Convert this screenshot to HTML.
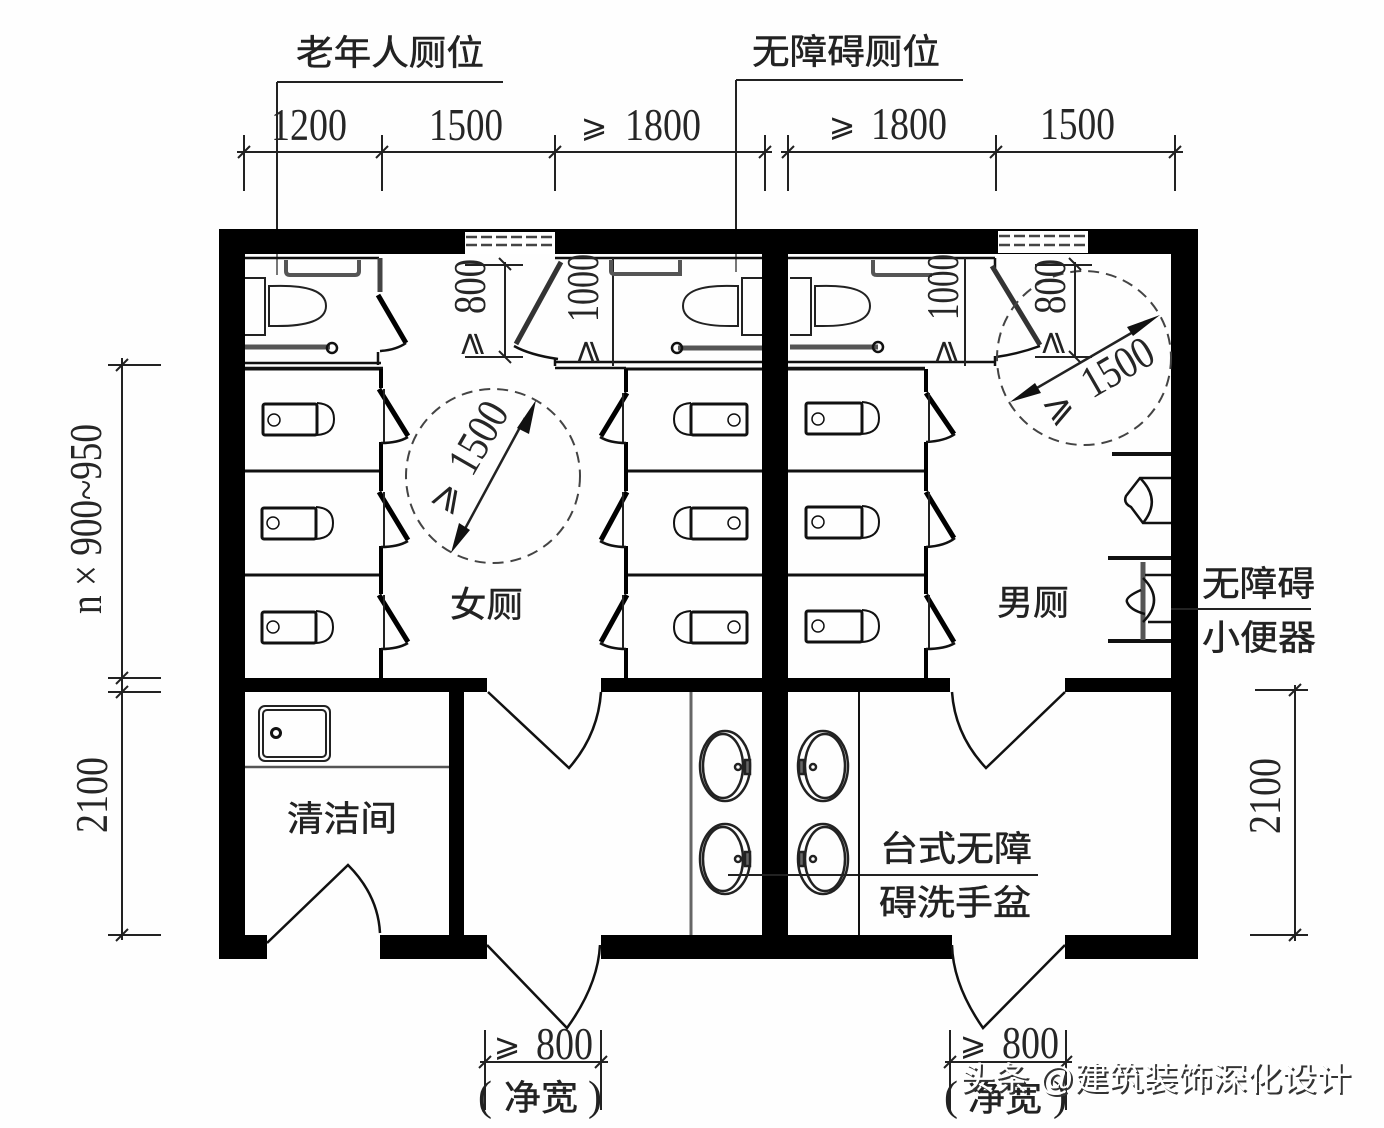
<!DOCTYPE html>
<html lang="zh"><head><meta charset="utf-8"><title>卫生间平面</title>
<style>
html,body{margin:0;padding:0;background:#fefefe}
svg{display:block}
.d{font-family:"Liberation Serif",serif;fill:#262626;font-size:45px}
.ge{font-family:"DejaVu Sans",sans-serif;fill:#222;text-anchor:middle;dominant-baseline:central;font-size:32px}
.c{font-family:"Liberation Sans","Noto Sans CJK SC",sans-serif;fill:#222;font-size:35px;stroke:#222;stroke-width:.5}
.l{fill:none;stroke:#222;stroke-width:2}
.g{fill:none;stroke:#555;stroke-width:4}
.t{fill:none;stroke:#111;stroke-width:2.5}
.t3{fill:none;stroke:#111;stroke-width:3}
.b{fill:none;stroke:#000;stroke-width:5}
.w{fill:#000}
</style></head><body>
<svg xmlns="http://www.w3.org/2000/svg" width="1384" height="1128" viewBox="0 0 1384 1128">
<rect width="1384" height="1128" fill="#fefefe"/>

<!-- walls -->
<g class="w">
<rect x="219" y="229" width="979" height="25"/>
<rect x="219" y="229" width="26" height="730"/>
<rect x="1171" y="229" width="27" height="730"/>
<rect x="762" y="229" width="26" height="730"/>
<rect x="219" y="678" width="268" height="14"/>
<rect x="601" y="678" width="161" height="14"/>
<rect x="788" y="678" width="162" height="14"/>
<rect x="1065" y="678" width="106" height="14"/>
<rect x="449" y="692" width="15" height="243"/>
<rect x="219" y="935" width="48" height="24"/>
<rect x="380" y="935" width="107" height="24"/>
<rect x="601" y="935" width="351" height="24"/>
<rect x="1065" y="935" width="133" height="24"/>
</g>
<!-- windows -->
<g>
<rect x="465" y="232" width="90" height="22" fill="#fff"/>
<path d="M466 237H555M466 245H555" fill="none" stroke="#444" stroke-width="2.5" stroke-dasharray="11 4"/>
<rect x="998" y="231" width="90" height="22" fill="#fff"/>
<path d="M999 236H1088M999 245H1088" fill="none" stroke="#444" stroke-width="2.5" stroke-dasharray="11 4"/>
</g>

<!-- top dimensions and leaders -->
<g class="l">
<path d="M277 82H503M277 82V229M736 80H963M736 80V229"/>
<path d="M237 152H772M244 135V191M382 135V191M555 135V191M765 135V191"/>
<path d="M238 158L250 146M376 158L388 146M549 158L561 146M759 158L771 146"/>
<path d="M781 152H1183M788 135V191M996 135V191M1175 135V191"/>
<path d="M782 158L794 146M990 158L1002 146M1169 158L1181 146"/>
<!-- left -->
<path d="M122 358V940M108 365H161M108 678H161M108 692H161M108 935H161"/>
<path d="M116 371L128 359M116 684L128 672M116 698L128 686M116 941L128 929"/>
<!-- right -->
<path d="M1295 685V941M1255 690H1308M1250 935H1308M1289 696L1301 684M1289 941L1301 929"/>
<!-- bottom -->
<path d="M485 1030V1110M601 1030V1110M480 1062H608M479 1068L491 1056M595 1068L607 1056"/>
<path d="M950 1030V1110M1066 1030V1110M945 1062H1072M944 1068L956 1056M1060 1068L1072 1056"/>
<!-- leaders -->
<path d="M1171 609H1311M728 875H1038"/>
<path d="M277 254V275M736 254V272" stroke="#777"/>
</g>

<!-- left accessible WC -->
<path class="t" d="M245 258H379M245 363H381M245 368H383"/>
<path d="M380 258V292" fill="none" stroke="#444" stroke-width="5"/>
<path class="t" d="M378 352V365"/>
<path class="b" d="M378 295L406 343"/>
<path class="t" d="M406 343Q396 350 380 351"/>
<path class="g" d="M286 260V271Q286 275 290 275H355Q359 275 359 271V260"/>
<path class="l" d="M245 278H265V335H245"/>
<path class="l" d="M269 286H272Q326 284 326 306Q326 327 272 326H269Z"/>
<path d="M245 347H330" stroke="#555" stroke-width="5" fill="none"/>
<circle cx="332" cy="348" r="5" class="t"/>
<!-- women's accessible WC -->
<path class="t" d="M555 258H762M555 362H762M555 368H626M555 366V358"/>
<path class="l" d="M613 258V366"/>
<path d="M561 262L516 344" stroke="#333" stroke-width="5" fill="none"/>
<path class="t" d="M514 346Q530 355 558 359"/>
<path class="g" d="M611 260V271Q611 274 615 274H680V260"/>
<path class="l" d="M762 278H742V335H762"/>
<path class="l" d="M738 286H735Q683 284 683 306Q683 327 735 326H738Z"/>
<path d="M678 348H762" stroke="#555" stroke-width="5" fill="none"/>
<circle cx="677" cy="348" r="5" class="t"/>
<!-- men's accessible WC -->
<path class="t" d="M788 258H995M788 362H995M788 368H925M995 258V268M995 356V366"/>
<path class="l" d="M965 258V366"/>
<path d="M992 266L1040 345" stroke="#333" stroke-width="5" fill="none"/>
<path class="t" d="M1040 346Q1018 354 996 357"/>
<path class="g" d="M873 260V272Q873 275 877 275H932"/>
<path class="l" d="M790 278H811V335H790"/>
<path class="l" d="M815 286H818Q870 284 870 306Q870 327 818 326H815Z"/>
<path d="M790 347H878" stroke="#555" stroke-width="5" fill="none"/>
<circle cx="878" cy="347" r="5" class="t"/>

<!-- stall dividers -->
<path class="t3" d="M245 369H381M245 471H381M245 575H381M625 369H762M625 471H762M625 575H762M788 369H925M788 471H925M788 575H925"/>

<!-- women's left stall doors -->
<g>
<path class="b" style="stroke-width:4" d="M381 369V388M381 442V491M381 546V594M381 648V678"/>
<path class="b" d="M379 389L408 436M379 492L408 540M379 595L408 642"/>
<path class="t" d="M408 437Q398 443 381 443M408 541Q398 547 381 547M408 643Q398 649 381 649"/>
<path class="l" d="M384 389V442M384 492V546M384 595V648"/>
</g>
<!-- women's right stall doors -->
<g>
<path class="b" style="stroke-width:4" d="M626 369V392M626 442V491M626 546V594M626 648V678"/>
<path class="b" d="M627 393L601 436M627 492L601 540M627 595L601 642"/>
<path class="t" d="M600 437Q610 443 626 443M600 541Q610 547 626 547M600 643Q610 649 626 649"/>
<path class="l" d="M623 393V442M623 492V546M623 595V648"/>
</g>
<!-- men's stall doors -->
<g>
<path class="b" style="stroke-width:4" d="M926 369V392M926 442V491M926 546V594M926 648V678"/>
<path class="b" d="M926 393L954 434M926 492L954 538M926 595L954 642"/>
<path class="t" d="M955 434Q945 441 926 442M955 538Q945 546 926 547M955 643Q945 649 926 649"/>
<path class="l" d="M929 393V442M929 492V546M929 595V648"/>
</g>

<!-- squat pans -->
<g fill="none" stroke="#111">
<rect x="263" y="404" width="54" height="31" rx="2" stroke-width="3"/>
<path d="M317 403Q334 404 334 419Q334 434 317 435" stroke-width="2"/>
<circle cx="274" cy="420" r="6" stroke-width="1.5"/>
<rect x="262" y="508" width="54" height="31" rx="2" stroke-width="3"/>
<path d="M316 507Q333 508 333 523Q333 538 316 539" stroke-width="2"/>
<circle cx="273" cy="523" r="6" stroke-width="1.5"/>
<rect x="262" y="612" width="54" height="31" rx="2" stroke-width="3"/>
<path d="M316 611Q333 612 333 627Q333 642 316 643" stroke-width="2"/>
<circle cx="273" cy="627" r="6" stroke-width="1.5"/>
<rect x="691" y="404" width="56" height="31" rx="2" stroke-width="3"/>
<path d="M691 403Q674 404 674 419Q674 434 691 435" stroke-width="2"/>
<circle cx="734" cy="420" r="6" stroke-width="1.5"/>
<rect x="691" y="508" width="56" height="31" rx="2" stroke-width="3"/>
<path d="M691 507Q674 508 674 523Q674 538 691 539" stroke-width="2"/>
<circle cx="734" cy="523" r="6" stroke-width="1.5"/>
<rect x="691" y="612" width="56" height="31" rx="2" stroke-width="3"/>
<path d="M691 611Q674 612 674 627Q674 642 691 643" stroke-width="2"/>
<circle cx="734" cy="627" r="6" stroke-width="1.5"/>
<rect x="806" y="403" width="56" height="31" rx="2" stroke-width="3"/>
<path d="M862 402Q879 403 879 418Q879 433 862 434" stroke-width="2"/>
<circle cx="818" cy="419" r="6" stroke-width="1.5"/>
<rect x="806" y="507" width="56" height="31" rx="2" stroke-width="3"/>
<path d="M862 506Q879 507 879 522Q879 537 862 538" stroke-width="2"/>
<circle cx="818" cy="522" r="6" stroke-width="1.5"/>
<rect x="806" y="611" width="56" height="31" rx="2" stroke-width="3"/>
<path d="M862 610Q879 611 879 626Q879 641 862 642" stroke-width="2"/>
<circle cx="818" cy="626" r="6" stroke-width="1.5"/>
</g>

<!-- turning circles -->
<circle cx="493" cy="476" r="87" fill="none" stroke="#444" stroke-width="2" stroke-dasharray="11 7"/>
<circle cx="1084" cy="358" r="87" fill="none" stroke="#444" stroke-width="2" stroke-dasharray="11 7"/>
<path class="l" style="stroke-width:2.5" d="M525 418L460 538"/>
<path d="M536 400L517 428L529 434ZM451 553L459 523L470 530Z" fill="#111"/>
<path class="l" style="stroke-width:2.5" d="M1030 392L1140 328"/>
<path d="M1160 315L1127 327L1133 336ZM1010 402L1035 383L1041 393Z" fill="#111"/>

<!-- interior dim lines -->
<g class="l">
<path d="M505 262V357M465 265H523M465 357H523M499 258L511 270M499 351L511 363"/>
<path d="M1075 262V357M1035 265H1092M1035 357H1092M1069 258L1081 270M1069 351L1081 363"/>
</g>

<!-- urinals -->
<path d="M1112 454H1171" stroke="#111" stroke-width="4" fill="none"/>
<path class="t" d="M1171 478H1140L1126 496Q1123 503 1131 507L1143 523H1171"/>
<path class="t" d="M1140 478Q1162 500 1143 523"/>
<path d="M1108 558H1171M1108 641H1171" stroke="#111" stroke-width="4" fill="none"/>
<path d="M1143 562V640" stroke="#555" stroke-width="5" fill="none"/>
<path class="t" d="M1143 578Q1165 600 1143 622M1145 575H1171M1148 622H1171M1141 590Q1125 597 1127 602Q1130 610 1145 614"/>

<!-- basins -->
<g fill="none" stroke="#222" stroke-width="2.5">
<ellipse cx="725" cy="766" rx="25" ry="35"/><ellipse cx="723" cy="766" rx="20" ry="32"/>
<ellipse cx="725" cy="859" rx="25" ry="35"/><ellipse cx="723" cy="859" rx="20" ry="32"/>
<ellipse cx="823" cy="766" rx="25" ry="35"/><ellipse cx="825" cy="766" rx="20" ry="32"/>
<ellipse cx="823" cy="859" rx="25" ry="35"/><ellipse cx="825" cy="859" rx="20" ry="32"/>
<circle cx="738" cy="767" r="3"/><circle cx="738" cy="859" r="3"/><circle cx="813" cy="767" r="3"/><circle cx="813" cy="859" r="3"/>
<rect x="745" y="760" width="5" height="14" fill="#666"/><rect x="745" y="852" width="5" height="14" fill="#666"/>
<rect x="799" y="760" width="5" height="14" fill="#666"/><rect x="799" y="852" width="5" height="14" fill="#666"/>
</g>
<path d="M691 692V935" stroke="#666" stroke-width="3" fill="none"/>
<path d="M859 692V935" stroke="#111" stroke-width="2" fill="none"/>

<!-- doors -->
<g class="t">
<path d="M488 692L569 768Q598 735 601 692"/>
<path d="M1065 692L986 768Q955 735 952 692"/>
<path d="M267 943L348 865Q378 895 380 933"/>
<path d="M487 945L567 1028Q598 985 600 945"/>
<path d="M1065 945L983 1028Q953 985 952 945"/>
</g>

<!-- cleaning room -->
<rect x="259" y="706" width="71" height="55" rx="6" fill="none" stroke="#222" stroke-width="2"/>
<rect x="263" y="710" width="63" height="47" rx="4" fill="none" stroke="#222" stroke-width="2"/>
<circle cx="276" cy="733" r="4.5" fill="none" stroke="#111" stroke-width="3"/>
<path d="M245 767H449" stroke="#555" stroke-width="2.5" fill="none"/>

<!-- number labels -->
<g class="d">
<text x="271" y="140" textLength="76" lengthAdjust="spacingAndGlyphs">1200</text>
<text x="429" y="140" textLength="74" lengthAdjust="spacingAndGlyphs">1500</text>
<text x="625" y="140" textLength="76" lengthAdjust="spacingAndGlyphs">1800</text>
<text x="871" y="139" textLength="76" lengthAdjust="spacingAndGlyphs">1800</text>
<text x="1040" y="139" textLength="75" lengthAdjust="spacingAndGlyphs">1500</text>
<text transform="translate(101 614) rotate(-90)" textLength="190" lengthAdjust="spacingAndGlyphs">n × 900~950</text>
<text transform="translate(107 833) rotate(-90)" textLength="76" lengthAdjust="spacingAndGlyphs">2100</text>
<text transform="translate(1280 834) rotate(-90)" textLength="76" lengthAdjust="spacingAndGlyphs">2100</text>
<text transform="translate(485 314) rotate(-90)" textLength="55" lengthAdjust="spacingAndGlyphs">800</text>
<text transform="translate(1065 314) rotate(-90)" textLength="55" lengthAdjust="spacingAndGlyphs">800</text>
<text transform="translate(598 322) rotate(-90)" textLength="68" lengthAdjust="spacingAndGlyphs">1000</text>
<text transform="translate(958 320) rotate(-90)" textLength="66" lengthAdjust="spacingAndGlyphs">1000</text>
<text transform="translate(472 478) rotate(-60)" textLength="76" lengthAdjust="spacingAndGlyphs">1500</text>
<text transform="translate(1092 399) rotate(-30)" textLength="76" lengthAdjust="spacingAndGlyphs">1500</text>
<text x="536" y="1059" textLength="57" lengthAdjust="spacingAndGlyphs">800</text>
<text x="1002" y="1058" textLength="57" lengthAdjust="spacingAndGlyphs">800</text>
</g>
<!-- greater-or-equal signs -->
<g>
<text class="ge" x="594" y="126">⩾</text>
<text class="ge" x="842" y="125">⩾</text>
<text class="ge" x="507" y="1045">⩾</text>
<text class="ge" x="973" y="1044">⩾</text>
<text class="ge" transform="translate(469 344) rotate(-90)">⩾</text>
<text class="ge" transform="translate(1050 343) rotate(-90)">⩾</text>
<text class="ge" transform="translate(585 352) rotate(-90)">⩾</text>
<text class="ge" transform="translate(943 352) rotate(-90)">⩾</text>
<text class="ge" style="font-size:36px" transform="translate(445 497) rotate(-60)">⩾</text>
<text class="ge" style="font-size:36px" transform="translate(1058 407) rotate(-30)">⩾</text>
</g>

<!-- chinese labels -->
<g class="c">
<text x="296" y="65" textLength="188" lengthAdjust="spacingAndGlyphs">老年人厕位</text>
<text x="752" y="64" textLength="188" lengthAdjust="spacingAndGlyphs">无障碍厕位</text>
<text x="450" y="617" textLength="73" lengthAdjust="spacingAndGlyphs">女厕</text>
<text x="997" y="615" textLength="72" lengthAdjust="spacingAndGlyphs">男厕</text>
<text x="287" y="831" textLength="110" lengthAdjust="spacingAndGlyphs">清洁间</text>
<text x="1202" y="596" textLength="113" lengthAdjust="spacingAndGlyphs">无障碍</text>
<text x="1202" y="650" textLength="114" lengthAdjust="spacingAndGlyphs">小便器</text>
<text x="880" y="861" textLength="152" lengthAdjust="spacingAndGlyphs">台式无障</text>
<text x="879" y="915" textLength="152" lengthAdjust="spacingAndGlyphs">碍洗手盆</text>
<text x="504" y="1110" textLength="74" lengthAdjust="spacingAndGlyphs">净宽</text>
<text x="968" y="1111" textLength="74" lengthAdjust="spacingAndGlyphs">净宽</text>
</g>
<g font-family="'Liberation Serif',serif" font-size="42" fill="#222">
<text x="478" y="1110">(</text><text x="588" y="1110">)</text>
<text x="944" y="1110">(</text><text x="1053" y="1110">)</text>
</g>

<!-- watermark -->
<text x="962" y="1092" font-family="'Liberation Sans','Noto Sans CJK SC',sans-serif" font-size="33" fill="#333" textLength="391" lengthAdjust="spacingAndGlyphs">头条 @建筑装饰深化设计</text>
<text x="960" y="1090" font-family="'Liberation Sans','Noto Sans CJK SC',sans-serif" font-size="33" fill="#fff" textLength="391" lengthAdjust="spacingAndGlyphs">头条 @建筑装饰深化设计</text>
</svg>
</body></html>
